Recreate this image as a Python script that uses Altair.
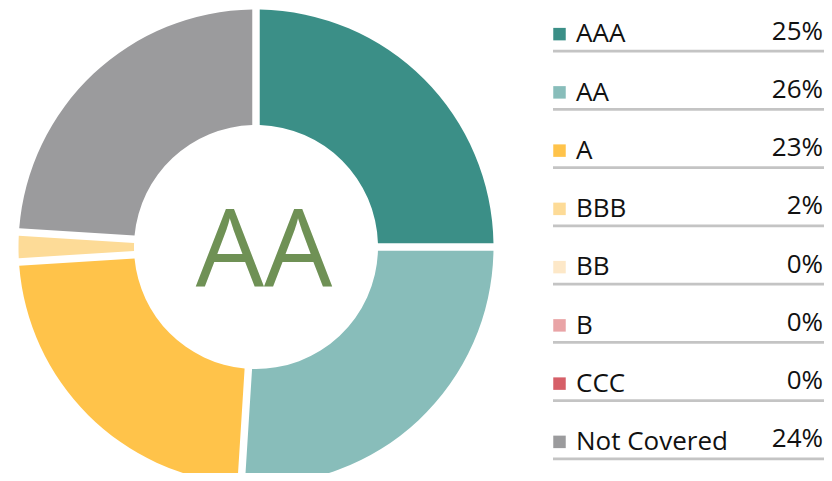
import altair as alt
import pandas as pd

categories = ["AAA", "AA", "A", "BBB", "BB", "B", "CCC", "Not Covered"]
values = [25, 26, 23, 2, 0, 0, 0, 24]
colors = ["#3b8f87", "#88bdba", "#ffc34a", "#fddb97", "#fde8c8", "#e9a4a6", "#d65f68", "#9b9b9d"]
center_label = ["AA"]

df = pd.DataFrame({"category": categories, "value": values, "idx": list(range(len(categories)))})
df["pct"] = [f"{v}%" for v in values]
center_df = pd.DataFrame({"label": center_label})

FONT = "Open Sans"
color_scale = alt.Scale(domain=categories, range=colors)
y_scale = alt.Scale(type="point", domain=categories, range=[0, 466], padding=0.5)

donut = alt.Chart(df).mark_arc(innerRadius=122, outerRadius=237.5, padAngle=0.028).encode(
    theta=alt.Theta("value:Q", stack=True),
    order=alt.Order("idx:Q"),
    color=alt.Color("category:N", scale=color_scale, legend=None),
    x=alt.value(248),
    y=alt.value(239),
)

center = alt.Chart(center_df).mark_text(
    font=FONT, fontSize=108, color="#6f9155", align="center", baseline="alphabetic"
).encode(text="label:N", x=alt.value(256), y=alt.value(279))

lines = alt.Chart(df).mark_rule(color="#c4c4c4", strokeWidth=2.8, yOffset=14).encode(
    y=alt.Y("category:N", scale=y_scale, axis=None),
    x=alt.value(545),
    x2=alt.value(816),
)

squares = alt.Chart(df).mark_square(size=156, opacity=1, yOffset=-3).encode(
    y=alt.Y("category:N", scale=y_scale, axis=None),
    x=alt.value(551.5),
    color=alt.Color("category:N", scale=color_scale, legend=None),
)

labels = alt.Chart(df).mark_text(
    font=FONT, fontSize=26, color="#111111", align="left", baseline="alphabetic", dy=5.2
).encode(
    y=alt.Y("category:N", scale=y_scale, axis=None),
    x=alt.value(568),
    text="category:N",
)

pcts = alt.Chart(df).mark_text(
    font=FONT, fontSize=26, color="#111111", align="right", baseline="alphabetic", dy=2.5
).encode(
    y=alt.Y("category:N", scale=y_scale, axis=None),
    x=alt.value(815),
    text="pct:N",
)

chart = alt.layer(donut, center, lines, squares, labels, pcts).properties(
    width=816, height=465, padding=0, autosize=alt.AutoSizeParams(type="none")
).configure_view(stroke=None)

chart.save("out.html", embed_options={"renderer": "svg", "actions": False})
